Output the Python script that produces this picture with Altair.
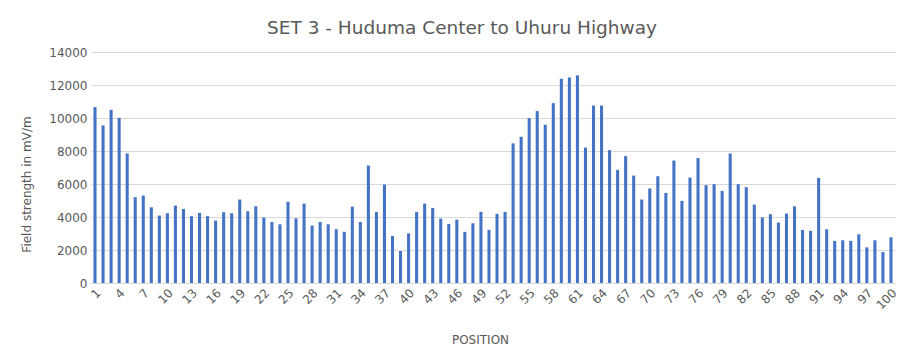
import altair as alt
import pandas as pd

positions = list(range(1, 101))
values = [
    10660, 9550, 10500, 10010, 7850, 5200, 5300, 4590, 4090, 4230,
    4690, 4490, 4050, 4250, 4050, 3780, 4290, 4230, 5060, 4350,
    4650, 3970, 3700, 3560, 4920, 3920, 4810, 3480, 3700, 3560,
    3260, 3100, 4630, 3700, 7120, 4310, 5970, 2850, 1940, 3010,
    4310, 4810, 4550, 3900, 3580, 3840, 3100, 3620, 4310, 3220,
    4190, 4310, 8460, 8860, 9990, 10420, 9590, 10900, 12380, 12460,
    12580, 8210, 10760, 10760, 8050, 6860, 7690, 6510, 5060, 5730,
    6470, 5460, 7420, 4980, 6390, 7570, 5930, 5990, 5580, 7850,
    5990, 5810, 4750, 3970, 4170, 3660, 4210, 4650, 3220, 3160,
    6370, 3260, 2550, 2590, 2550, 2950, 2160, 2590, 1880, 2770,
]
tick_values = list(range(1, 101, 3))

df = pd.DataFrame({"POSITION": positions, "value": values})

FONT = "DejaVu Sans"
GRAY = "#595959"

chart = (
    alt.Chart(df)
    .mark_bar(color="#4472C4")
    .encode(
        x=alt.X(
            "POSITION:O",
            scale=alt.Scale(paddingInner=0.62, paddingOuter=0.31),
            axis=alt.Axis(
                values=tick_values,
                labelAngle=-45,
                labelFontSize=12,
                labelColor=GRAY,
                labelFont=FONT,
                ticks=False,
                domainColor="#d9d9d9",
                labelPadding=4,
                title="POSITION",
                titleFontSize=12,
                titleFontWeight="normal",
                titleColor=GRAY,
                titleFont=FONT,
                titleX=389,
                titleY=56,
                titleAlign="center",
                titleBaseline="middle",
            ),
        ),
        y=alt.Y(
            "value:Q",
            scale=alt.Scale(domain=[0, 14000]),
            axis=alt.Axis(
                values=list(range(0, 14001, 2000)),
                format="d",
                labelFontSize=12,
                labelColor=GRAY,
                labelFont=FONT,
                ticks=False,
                domain=False,
                gridColor="#d9d9d9",
                labelPadding=4,
                title="Field strength in mV/m",
                titleFontSize=12,
                titleFontWeight="normal",
                titleColor=GRAY,
                titleFont=FONT,
                titleX=-65,
                titleY=132,
                titleAlign="center",
                titleBaseline="middle",
            ),
        ),
    )
    .properties(
        width=804,
        height=231,
        padding={"left": 11, "top": 10, "right": 5, "bottom": 5},
        title=alt.TitleParams(
            "SET 3 - Huduma Center to Uhuru Highway",
            fontSize=18.5,
            fontWeight="normal",
            color=GRAY,
            font=FONT,
            anchor="middle",
            offset=9,
            dx=-31,
        ),
    )
    .configure_view(stroke=None)
)

chart.save("out.html", embed_options={"renderer": "svg", "actions": False})
